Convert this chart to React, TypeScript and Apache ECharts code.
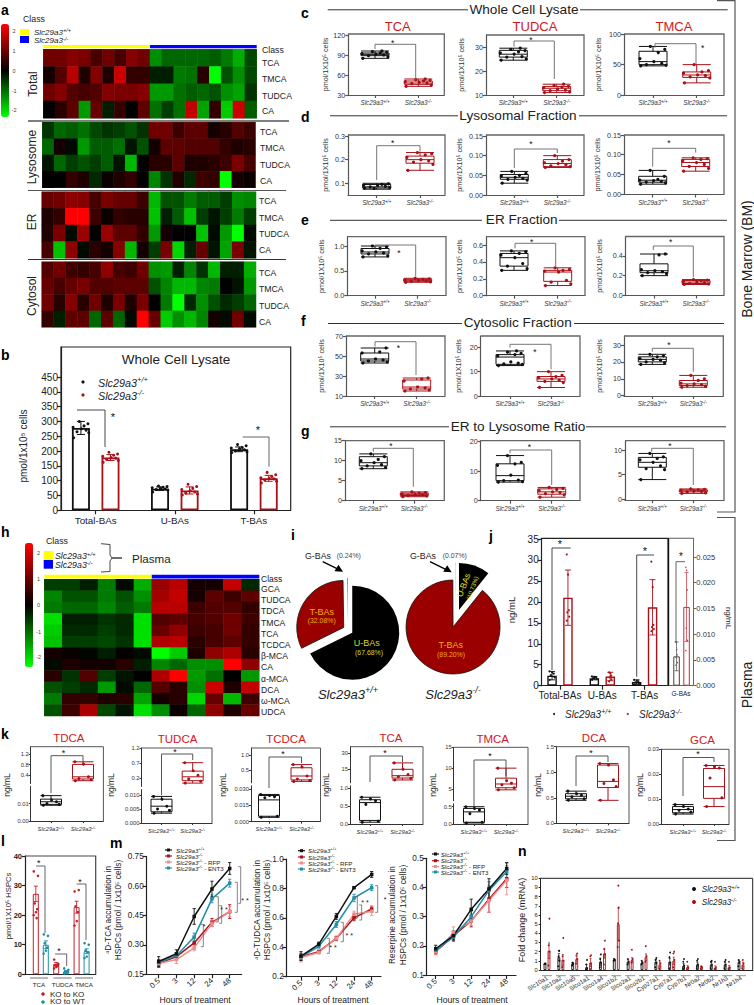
import React, { useEffect, useRef } from "react";
import * as echarts from "echarts";

const F = "Liberation Sans";
const WT = "+/+";
const KO = "-/-";
const BLACK = "#111111";
const RED = "#a91017";
const TEAL = "#1f8fa6";
const PINK = "#f08c8c";

// ---------- heatmap values ----------
const hmTotal = [
  [1.1, 1.1, 1.3, 1.2, 0.7, 1.1, 0.7, 1.3, 1.1, -1.4, -1, -1, -1, -1, -0.9, -1.2, -1.7, -0.7],
  [0.2, 0.8, 1.8, 0.3, 1.3, 0.3, 2.0, 0.5, 0.5, -0.3, -0.3, -1.2, -1.1, 0.4, -2.5, -0.8, -1.4, -0.7],
  [1.1, 1.3, 0.8, 0.7, 0.8, 1.3, 1.2, 1.2, 1.3, -1.5, -1.5, -1.1, -0.9, -1, -0.8, -1.4, -1.6, -0.5],
  [0, 0.4, 0.9, -1.5, 1.0, -0.3, 0.5, 0, 0.9, -1.1, -0.6, -1.1, 1.9, -1.6, 0.5, -2.0, 2.0, -0.9],
];
const hmLysosome = [
  [-0.5, -1, -0.9, -1.1, -0.7, -0.5, -0.6, -0.8, -0.5, 1.1, 1.1, 0.6, 0.9, 0.9, 0.2, 0.4, 0.8, 0.6],
  [-1, 0.2, -0.1, -1.5, -0.9, -0.9, -1.1, -0.2, -0.8, 0.2, 0.9, 0.9, 0.8, 0.8, 0.8, 0.5, 0.3, 0.4],
  [-0.2, -1, -0.6, -0.8, -0.6, -0.9, -0.2, -1.8, 0, 0.4, 0.4, 0.9, 0.3, 0.3, 0.4, 0.6, 1.2, 0.7],
  [0, 0, 0.5, 0.3, -0.4, 0.1, 0.3, 0.5, 0.05, -1.3, -0.5, 0.3, -0.4, 0.6, 0.5, -2.5, 0.2, 0.1],
];
const hmEr = [
  [1, 1.1, 1.4, 1.3, 0.7, 1.2, 1, 1, 0.6, -1.8, -0.8, -0.8, -1.2, -0.9, -0.9, -0.6, -1.4, -1.3],
  [0.3, 0.5, 2.5, 2.5, 0.6, 0.1, 0.5, 0.4, 0.4, -1.9, -0.3, -0.9, -1.9, -0.6, -0.2, -0.6, -1.2, -0.6],
  [0.3, 1.2, -0.1, 1.5, 0, 1.5, 0.9, 0.9, 0.5, -1.5, 0.2, 0, 0, -1.9, -0.1, -1.5, -2.5, -0.1],
  [0.7, -1.9, 1.4, -0.1, 0.4, 0.2, 1.3, -1.8, 0.2, -0.6, 1.2, -2.1, -0.3, 1.0, -0.2, -1.6, 1.2, -0.2],
];
const hmCytosol = [
  [0.8, 1.1, 0.6, 0.5, 0.7, 1.4, 0.7, 0.6, 1.1, -1.4, -1.5, -0.3, -1.3, -0.5, -1.8, -0.3, -0.3, -1.7],
  [1, 0.7, 1, 1.2, 0.8, 0.8, 0.9, 0.9, 0.9, -0.8, -1.3, -1.8, -1.8, -1.3, -1.2, 0, -0.2, -1.5],
  [1.1, 0.4, 1.3, 0.4, 1.1, 0.3, 1.2, 0.3, 1.2, 0, -1.2, -2.5, -0.4, -1.4, -0.8, -0.4, -0.6, -1.0],
  [0.5, -0.3, 0.9, 0.9, -1, 0.9, -1, -0.1, 2.5, 1, -2, -1.4, -1.8, -1.3, 0.2, -0.1, 1.1, -0.1],
];
const hmPlasma = [
  [-0.6, -0.6, -0.3, -1.2, -0.1, -1.7, 1.5, 1.8, 0.2, 0.2, 1.9, -0.4],
  [-1.3, -0.8, -0.8, -1.2, -0.8, -1.4, 1.6, 1.9, 0.2, 0.9, 0.6, 0.9],
  [-1.2, -1, -1, -1.3, -0.9, -1.2, 1.8, 1.8, 0.6, 0.8, 0.8, 0.5],
  [-2.2, -0.3, -0.3, -0.5, -0.4, -2.2, 0.8, 0.9, 0.7, 0.8, 1.1, 0.6],
  [-2.0, -0.4, -0.4, -0.6, -0.4, -2.2, 1, 1.4, 0.6, 0.7, 1.1, 0.5],
  [-1.9, -0.6, -0.6, -0.7, -0.5, -2.2, 1.7, 1.8, 0.4, 0.7, 0.9, 0.5],
  [0.2, 0.1, -0.05, -0.3, 0.05, -0.1, -2.5, -2, 0.3, 1.4, 1.7, 0.4],
  [-0.1, 0.3, 0.2, 0.2, 0.4, -0.3, -1.3, -1, -1.4, -1.4, 2.5, 1.4],
  [0.4, -0.5, 0.8, -0.6, -0.2, 0, 1.7, 2.5, -1.5, -1.1, 0, -1.5],
  [-0.8, -0.6, -0.4, -1.5, -0.1, -1, 0.8, 0.4, -1.4, 2, 0.3, 1.9],
  [-1.2, 0.5, 0.5, 0.3, 0.4, -1.6, 0.2, 0.4, -2.1, 1, -1.8, 0.6],
  [-0.8, 0.6, 1.7, -0.7, -0.2, -2.2, -1.4, 0.1, -1, 1.4, 0.3, 1],
];
const rowsA = ["TCA", "TMCA", "TUDCA", "CA"];
const rowsH = ["GCA", "TUDCA", "TDCA", "TMCA", "TCA", "TCDCA", "β-MCA", "CA", "α-MCA", "DCA", "ω-MCA", "UDCA"];

// ---------- panel b ----------
const bCats = ["Total-BAs", "U-BAs", "T-BAs"];
const bMeanWt = [278, 73, 206];
const bMeanKo = [178, 67, 108];
const bErrWt = [22, 6, 8];
const bErrKo = [10, 12, 10];
const bPtsWt = [
  [245, 262, 265, 270, 275, 280, 285, 292, 300],
  [62, 68, 70, 72, 74, 76, 78, 80, 82],
  [195, 198, 200, 204, 208, 210, 212, 218, 222],
];
const bPtsKo = [
  [162, 168, 172, 176, 178, 182, 186, 190, 196],
  [52, 55, 58, 62, 66, 70, 74, 80, 88],
  [92, 98, 102, 106, 108, 110, 114, 120, 128],
];

// ---------- box panels: [wt box, wt points, ko box, ko points] ----------
const c1 = [[85, 89, 91, 93, 96], [85, 87, 89, 90, 91, 92, 93, 94, 95, 96], [43, 46, 48, 51, 54], [43, 45, 47, 48, 49, 50, 51, 52, 53, 54]];
const c2 = [[24.5, 25.8, 27, 28.6, 29.5], [24.5, 25, 25.8, 26, 27, 27.5, 28, 28.5, 29, 29.5], [11, 11.8, 12.8, 13.5, 14.5], [11, 11.3, 11.8, 12, 12.5, 13, 13.3, 13.6, 14, 14.5]];
const c3 = [[48, 50, 55, 72, 80], [48, 49, 50, 52, 55, 60, 70, 75, 80], [20, 29, 33, 38, 50], [20, 28, 30, 32, 33, 36, 38, 40, 50]];
const d1 = [[0.075, 0.08, 0.085, 0.095, 0.1], [0.08, 0.082, 0.085, 0.087, 0.09, 0.092, 0.095, 0.098, 0.078], [0.155, 0.185, 0.2, 0.215, 0.23], [0.155, 0.18, 0.19, 0.195, 0.2, 0.21, 0.22, 0.225, 0.23]];
const d2 = [[0.03, 0.04, 0.045, 0.052, 0.06], [0.03, 0.038, 0.04, 0.042, 0.045, 0.048, 0.05, 0.055, 0.06], [0.07, 0.072, 0.08, 0.09, 0.1], [0.07, 0.072, 0.074, 0.077, 0.08, 0.082, 0.086, 0.09, 0.1]];
const d3 = [[0.025, 0.03, 0.035, 0.045, 0.06], [0.025, 0.028, 0.03, 0.032, 0.034, 0.035, 0.037, 0.045, 0.06], [0.058, 0.07, 0.08, 0.088, 0.092], [0.058, 0.065, 0.07, 0.075, 0.08, 0.085, 0.088, 0.09, 0.092]];
const e1 = [[0.78, 0.84, 0.88, 0.95, 1.0], [0.78, 0.8, 0.84, 0.86, 0.88, 0.9, 0.95, 0.98, 1], [0.27, 0.29, 0.31, 0.33, 0.35], [0.27, 0.28, 0.29, 0.3, 0.31, 0.32, 0.33, 0.34, 0.35]];
const e2 = [[0.3, 0.35, 0.45, 0.5, 0.53], [0.3, 0.32, 0.35, 0.38, 0.45, 0.48, 0.5, 0.52, 0.53], [0.12, 0.17, 0.28, 0.3, 0.33], [0.12, 0.14, 0.16, 0.18, 0.28, 0.29, 0.3, 0.31, 0.33]];
const e3 = [[0.2, 0.23, 0.25, 0.32, 0.42], [0.2, 0.22, 0.23, 0.24, 0.25, 0.26, 0.41, 0.42], [0.11, 0.12, 0.135, 0.15, 0.16], [0.11, 0.115, 0.12, 0.13, 0.135, 0.14, 0.15, 0.155, 0.16]];
const f1 = [[43, 45, 47, 53, 58], [43, 44, 45, 46, 47, 53, 54, 58], [15, 17, 19, 26, 28], [15, 16, 17, 18, 19, 25, 27, 28]];
const f2 = [[12.5, 13, 16, 17, 18.5], [12.5, 13, 13.2, 13.5, 14, 16.5, 17, 17.5, 18, 18.5], [3.5, 6, 7, 8, 10], [3.5, 5.5, 6, 6.5, 7, 7.5, 8, 8.5, 10]];
const f3 = [[18.5, 20, 21.5, 23, 24.5], [18.5, 19.5, 20, 21, 21.5, 22, 23, 23.5, 24.5], [5, 6, 7, 9, 12], [5, 5.5, 6, 6.5, 7, 7.5, 9, 10, 12]];
const g1 = [[8, 8.7, 9.5, 11, 11.7], [8, 8.3, 8.7, 9, 9.5, 10, 10.3, 11, 11.7], [1, 1.3, 1.6, 1.9, 2.2], [1, 1.2, 1.3, 1.5, 1.6, 1.7, 1.9, 2, 2.2]];
const g2 = [[6.3, 6.8, 8.5, 12.5, 15.3], [6.3, 6.5, 6.8, 7, 8.7, 12, 12.5, 13, 15.3], [1.2, 2.2, 3, 4, 4.5], [1.2, 2, 2.4, 2.8, 3, 3.4, 3.8, 4.2, 4.5]];
const g3 = [[4, 6.5, 7.5, 8.5, 9.3], [4, 6, 6.2, 6.8, 7.5, 8, 8.3, 8.6, 9.3], [1.2, 1.5, 1.7, 1.9, 2.1], [1.2, 1.3, 1.5, 1.6, 1.7, 1.8, 1.9, 2, 2.1]];
const kTdca = [[0.009, 0.0095, 0.011, 0.0125, 0.0145], [0.009, 0.0095, 0.01, 0.011, 0.012, 0.0145], [0.18, 0.245, 0.33, 0.81, 0.91], [0.18, 0.22, 0.26, 0.33, 0.82, 0.91]];
const kTudca = [[0.0035, 0.004, 0.006, 0.0085, 0.0095], [0.0035, 0.0045, 0.005, 0.006, 0.0085, 0.0095], [0.04, 0.12, 0.25, 0.44, 0.72], [0.04, 0.1, 0.18, 0.3, 0.45, 0.72]];
const kTcdca = [[0.004, 0.005, 0.02, 0.024, 0.025], [0.004, 0.005, 0.022, 0.023, 0.024, 0.025], [0.12, 0.17, 0.3, 0.575, 0.68], [0.12, 0.15, 0.2, 0.3, 0.6, 0.68]];
const kTca = [[0.05, 0.1, 0.6, 0.68, 0.75], [0.05, 0.08, 0.55, 0.65, 0.7, 0.75], [5, 6.8, 9, 15, 21], [5, 6.5, 8, 10, 15, 21]];
const kTmca = [[0.03, 0.05, 0.35, 0.45, 0.5], [0.03, 0.05, 0.3, 0.4, 0.45, 0.5], [4.8, 5.3, 6.2, 7.6, 10], [4.8, 5.3, 6, 6.4, 7, 10]];
const kDca = [[0.45, 0.48, 0.53, 0.58, 0.63], [0.45, 0.48, 0.52, 0.55, 0.58, 0.63], [0.45, 0.7, 0.82, 1.14, 1.17], [0.45, 0.72, 0.78, 0.85, 1.14, 1.17]];
const kGca = [[0.004, 0.0045, 0.0058, 0.007, 0.0078], [0.004, 0.0048, 0.0055, 0.006, 0.007, 0.0078], [0.007, 0.0103, 0.015, 0.0223, 0.0235], [0.007, 0.0105, 0.0185, 0.0225, 0.023, 0.0235]];

// ---------- pies ----------
const pieLeft = [67.68, 32.08, 0.24];
const pieRight = [10.73, 89.2, 0.07];

// ---------- panel j ----------
const jMeanWt = [2.4, 1.8, 0.9];
const jMeanKo = [21, 2.2, 18.7];
const jErrWt = [1, 0.4, 0.5];
const jErrKo = [6.6, 1, 6.6];
const jPtsWt = [[1.4, 2, 2.5, 2.9, 3.2, 3.4], [1.4, 1.6, 1.8, 2, 2.1, 2.2], [0.3, 0.5, 0.8, 1, 1.2, 1.4]];
const jPtsKo = [[15.5, 16.5, 17.5, 18, 26.5, 31.3], [1, 1.5, 2, 2.4, 3, 3.2], [13, 13.5, 14, 14.5, 23.5, 29.6]];
const jGMean = [0.0057, 0.0153];
const jGErr = [0.0028, 0.0067];
const jGPtsWt = [0.004, 0.0045, 0.0055, 0.006, 0.007, 0.0085];
const jGPtsKo = [0.0068, 0.0088, 0.0112, 0.0186, 0.0224, 0.023];

// ---------- panel l ----------
const lCats = ["TCA", "TUDCA", "TMCA"];
const lMeanKo = [27.2, 3.5, 22.7];
const lMeanWt = [10, 1, 7.8];
const lErrKo = [2.6, 0.5, 2];
const lErrWt = [1.3, 0.3, 0.8];
const lPtsKo = [[34.8, 33.3, 24, 22, 21, 20, 19], [5, 3.5, 3, 2.8, 2.5, 2], [28, 28.5, 23, 21, 18, 16.5]];
const lPtsWt = [[13.5, 13, 10.5, 9, 8, 7], [2, 1.5, 1, 0.8, 0.5, 0.3], [10.5, 10, 8, 7.5, 6, 5.5]];

// ---------- panel m ----------
const hours = ["0.5", "3", "12", "24", "48"];
const m1Lines = [[0.215, 0.255, 0.445, 0.585, 0.69], [0.205, 0.24, 0.31, 0.415, 0.47], [0.205, 0.225, 0.285, 0.41, 0.47], [0.21, 0.245, 0.34, 0.535, 0.615]];
const m1Errs = [[0.025, 0.02, 0.04, 0.04, 0.03], [0.02, 0.015, 0.03, 0.02, 0.035], [0.015, 0.02, 0.015, 0.015, 0.025], [0.015, 0.015, 0.02, 0.02, 0.02]];
const m2Lines = [[0.34, 0.42, 0.61, 0.805, 0.895], [0.335, 0.37, 0.46, 0.6, 0.66], [0.33, 0.365, 0.46, 0.625, 0.645], [0.335, 0.405, 0.555, 0.735, 0.805]];
const m2Errs = [[0.03, 0.015, 0.02, 0.005, 0.02], [0.02, 0.01, 0.015, 0.02, 0.02], [0.03, 0.01, 0.01, 0.02, 0.03], [0.02, 0.01, 0.02, 0.025, 0.02]];
const m3Lines = [[0.19, 0.235, 0.325, 0.395, 0.465], [0.18, 0.235, 0.285, 0.36, 0.43], [0.18, 0.245, 0.285, 0.355, 0.425], [0.185, 0.23, 0.3, 0.39, 0.455]];
const m3Errs = [[0.012, 0.015, 0.035, 0.035, 0.02], [0.01, 0.015, 0.02, 0.045, 0.03], [0.01, 0.02, 0.015, 0.04, 0.05], [0.01, 0.015, 0.02, 0.03, 0.03]];

// ---------- panel n ----------
const genes = ["Slc10a1", "Slc10a2", "Slc10a5", "Slco1a1", "Slco1a4", "Slco1b2", "Slco2a1", "Slco2b1", "Cyp27a1", "Cyp7a1", "Cyp7b1", "Nr0a2", "Nr0b2", "Nr1h3", "Nr1h4"];
const nMeanWt = [0.7, 1.4, 0.7, 0.3, 0.9, 1.1, 0.9, 0.8, 0.9, 0.9, 0.45, 0.6, 0.6, 0.6, 0.85];
const nMeanKo = [2.1, 1.1, 1.2, 0.8, 1.8, 5, 1.1, 1.4, 0.6, 1, 0.3, 0.3, 0.25, 0.3, 0.6];
const nErrWt = [0.05, 0.4, 0.1, 0.3, 0.4, 0.1, 0.2, 0.1, 0.25, 0.35, 0.25, 0.25, 0.25, 0.25, 0.15];
const nErrKo = [0.85, 0.6, 0.25, 0.45, 0.5, 1.75, 0.25, 0.35, 0.25, 0.4, 0.2, 0.1, 0.2, 0.2, 0.25];
const nPtsWt = [[0.65, 0.7], [0.4, 1, 1.5, 2.1, 2.1], [0.5, 0.7, 0.8], [0, 0.2, 0.6, 1.1], [0.3, 0.8, 1.2, 1.7], [1, 1.1, 1.2], [0.6, 0.9, 1.2], [0.6, 0.8, 1], [0.3, 0.8, 1.1, 1.3], [0.2, 0.8, 1.4, 1.9], [0.1, 0.5, 0.9, 1.2], [0.2, 0.6, 1, 1.2], [0.2, 0.6, 0.9, 1], [0.2, 0.6, 0.9, 1.1], [0.4, 0.9, 1.1]];
const nPtsKo = [[0.5, 2, 2.7, 5.6], [0.3, 1, 1.5, 3.5], [0.7, 1.2, 1.6, 1.8], [0.1, 0.7, 1.5, 1.6], [0.6, 1.7, 2.3, 3.2], [2.5, 3.2, 5.1, 6.8, 9.2], [0.8, 1.2, 2.2], [0.9, 1.5, 2.6], [0.2, 0.7, 1], [0.3, 1.1, 1.8, 2], [0, 0.3, 0.9], [0.1, 0.3, 0.4], [0.1, 0.3, 0.9], [0.1, 0.3, 0.9], [0.2, 0.7, 1.1]];

// x offsets for scattering points over a box (layout only)
const JIT = [-0.28, 0.3, -0.15, 0.2, 0.02, -0.3, 0.12, 0.27, -0.06, 0.16];

const lin = (v0: number, p0: number, v1: number, p1: number, p: number) => v0 + ((p - p0) * (v1 - v0)) / (p1 - p0);

function buildOption() {
  const grid: any[] = [];
  const xAxis: any[] = [];
  const yAxis: any[] = [];
  const series: any[] = [];
  const g: any[] = [];

  const text = (s: string, x: number, y: number, o: any = {}) => {
    g.push({
      type: "text",
      x,
      y,
      rotation: ((o.rot || 0) * Math.PI) / 180,
      silent: true,
      z: 20,
      style: {
        text: s,
        fontFamily: F,
        fontSize: o.fs || 9,
        fontStyle: o.italic ? "italic" : "normal",
        fontWeight: o.bold ? "bold" : "normal",
        fill: o.color || "#222",
        textAlign: o.align || "left",
        textVerticalAlign: "middle",
        ...(o.rich ? { rich: o.rich } : {}),
      },
    });
  };
  const polyline = (pts: number[][], color = "#555", lw = 1, z = 15) =>
    g.push({ type: "polyline", silent: true, z, shape: { points: pts }, style: { stroke: color, lineWidth: lw, fill: "none" } });
  const rect = (x: number, y: number, w: number, h: number, color: string) =>
    g.push({ type: "rect", silent: true, z: 15, shape: { x, y, width: w, height: h }, style: { fill: color } });
  const dot = (x: number, y: number, r: number, color: string) =>
    g.push({ type: "circle", silent: true, z: 15, shape: { cx: x, cy: y, r }, style: { fill: color } });
  const star = (x: number, y: number, fs = 10) => text("*", x, y + 2, { fs, align: "center", color: "#111" });
  const geno = (sup: string, extra = "") => `{a|Slc29a3}{b|${sup}}${extra ? `{c|${extra}}` : ""}`;
  const genoRich = (fs: number, color = "#222") => ({
    a: { fontFamily: F, fontStyle: "italic", fontSize: fs, color, fill: color, lineHeight: fs * 1.25 },
    b: { fontFamily: F, fontStyle: "italic", fontSize: fs * 0.7, color, fill: color, verticalAlign: "top", lineHeight: fs * 1.25 },
    c: { fontFamily: F, fontSize: fs, color, fill: color, lineHeight: fs * 1.25 },
  });

  // cartesian panel whose scales are anchored to the layout
  const cart = (o: any) => {
    const idx = grid.length;
    grid.push({ left: o.x0, top: o.y0, width: o.x1 - o.x0, height: o.y1 - o.y0, containLabel: false });
    const [xv0, xp0, xv1, xp1] = o.xa;
    const [yv0, yp0, yv1, yp1] = o.ya;
    const axisColor = o.axisColor || "#333";
    const axisW = o.axisW || 1;
    const tl = o.tickLen === undefined ? 3 : o.tickLen;
    xAxis.push({
      gridIndex: idx,
      type: "value",
      min: lin(xv0, xp0, xv1, xp1, o.x0),
      max: lin(xv0, xp0, xv1, xp1, o.x1),
      show: o.showX !== false,
      splitLine: { show: false },
      axisLine: { show: true, onZero: false, lineStyle: { color: axisColor, width: axisW } },
      axisTick: { show: true, length: tl, customValues: o.xt || [], lineStyle: { color: axisColor, width: axisW } },
      axisLabel: {
        show: true,
        customValues: o.xt || [],
        formatter: o.xl,
        hideOverlap: false,
        fontFamily: F,
        fontSize: o.xFs || 7,
        color: o.xColor || "#333",
        margin: o.xMargin === undefined ? 3 : o.xMargin,
        rotate: o.xRot || 0,
        ...(o.xRich ? { rich: o.xRich } : {}),
      },
    });
    const yVals = (o.yt || []).map((s: string) => parseFloat(s));
    yAxis.push({
      gridIndex: idx,
      type: "value",
      position: o.yPos || "left",
      min: lin(yv0, yp0, yv1, yp1, o.y1),
      max: lin(yv0, yp0, yv1, yp1, o.y0),
      splitLine: { show: false },
      axisLine: { show: o.yLine !== false, onZero: false, lineStyle: { color: axisColor, width: axisW } },
      axisTick: { show: true, length: tl, customValues: yVals, lineStyle: { color: axisColor, width: axisW } },
      axisLabel: {
        show: true,
        customValues: yVals,
        formatter: (v: number) => (o.yt || []).find((s: string) => parseFloat(s) === v) || "",
        hideOverlap: false,
        fontFamily: F,
        fontSize: o.yFs || 7,
        fontWeight: o.yBold ? "bold" : "normal",
        color: o.yColor || "#333",
        margin: o.yMargin === undefined ? 3 : o.yMargin,
      },
    });
    return idx;
  };

  const errSeries = (idx: number, data: number[][], color: string, cap: number, lw = 1, z = 4) => {
    series.push({
      type: "custom",
      xAxisIndex: idx,
      yAxisIndex: idx,
      silent: true,
      z,
      encode: { x: 0, y: [1, 2] },
      data,
      renderItem: (_: any, api: any) => {
        const lo = api.coord([api.value(0), api.value(1)]);
        const hi = api.coord([api.value(0), api.value(2)]);
        const st = { stroke: color, lineWidth: lw };
        const ln = (x1: number, y1: number, x2: number, y2: number) => ({ type: "line", shape: { x1, y1, x2, y2 }, style: st });
        return {
          type: "group",
          children: [ln(lo[0], lo[1], hi[0], hi[1]), ln(lo[0] - cap, lo[1], lo[0] + cap, lo[1]), ln(hi[0] - cap, hi[1], hi[0] + cap, hi[1])],
        };
      },
    });
  };
  const scatter = (idx: number, data: number[][], color: string, size: number, z = 5) =>
    series.push({ type: "scatter", xAxisIndex: idx, yAxisIndex: idx, silent: true, z, symbolSize: size, itemStyle: { color, opacity: 1 }, data });
  const barSeries = (idx: number, data: number[][], color: string, width: number, lw: number) =>
    series.push({
      type: "bar",
      xAxisIndex: idx,
      yAxisIndex: idx,
      silent: true,
      z: 3,
      barWidth: width,
      barGap: "-100%",
      itemStyle: { color: "#fff", borderColor: color, borderWidth: lw },
      data,
    });
  const boxSeries = (idx: number, items: any[], w: number) =>
    series.push({
      type: "boxplot",
      xAxisIndex: idx,
      yAxisIndex: idx,
      silent: true,
      z: 3,
      boxWidth: [w, w],
      data: items.map((it) => ({
        value: [it.x, ...it.box],
        itemStyle: { color: "rgba(255,255,255,0)", borderColor: it.color, borderWidth: 1 },
      })),
    });
  const pts = (x: number, vals: number[], scale = 1) => vals.map((v, i) => [x + JIT[i % JIT.length] * scale, v]);

  // ---------- heatmaps ----------
  const heat = (rows: number[][], x0: number, x1: number, y0: number, y1: number) => {
    const idx = grid.length;
    grid.push({ left: x0, top: y0, width: x1 - x0, height: y1 - y0 });
    xAxis.push({ gridIndex: idx, type: "category", show: false, data: rows[0].map((_, i) => String(i)) });
    yAxis.push({ gridIndex: idx, type: "category", show: false, inverse: true, data: rows.map((_, i) => String(i)) });
    const data: number[][] = [];
    rows.forEach((r, ri) => r.forEach((v, ci) => data.push([ci, ri, v])));
    series.push({ type: "heatmap", xAxisIndex: idx, yAxisIndex: idx, silent: true, progressive: 0, data, itemStyle: { borderWidth: 0 } });
    return series.length - 1;
  };
  const sA = [
    heat(hmTotal, 43.3, 256.7, 49.3, 118.3),
    heat(hmLysosome, 42.3, 255.5, 122.3, 187.7),
    heat(hmEr, 41.7, 256, 191.7, 258.3),
    heat(hmCytosol, 41.7, 256, 261.7, 327.3),
  ];
  const sH = heat(hmPlasma, 44.3, 259.3, 579.3, 716);
  const visualMap = [
    { type: "continuous", seriesIndex: sA, dimension: 2, min: -2.5, max: 2.5, left: 1, top: 24, itemWidth: 8, itemHeight: 93, padding: 0, calculable: false, hoverLink: false, inRange: { color: ["#00ff00", "#000000", "#ff0000"] } },
    { type: "continuous", seriesIndex: sH, dimension: 2, min: -2.5, max: 2.5, left: 25, top: 543, itemWidth: 8, itemHeight: 124, padding: 0, calculable: false, hoverLink: false, inRange: { color: ["#00ff00", "#000000", "#ff0000"] } },
  ];
  [["2", 31], ["1", 51], ["0", 71], ["-1", 91], ["-2", 110]].forEach(([s, y]: any) => text(s, 14, y, { fs: 5.5, align: "center", color: "#444" }));
  [["2", 553], ["1", 579], ["0", 605], ["-1", 631.7], ["-2", 657]].forEach(([s, y]: any) => text(s, 38.5, y, { fs: 5.5, align: "center", color: "#444" }));

  // panel a decoration
  rect(43.3, 45, 106.7, 3.2, "#ffff00");
  rect(150, 45, 106.7, 3.2, "#0000ff");
  text("Class", 23, 19, { fs: 8.8 });
  rect(20, 29, 9, 6.5, "#ffff00");
  rect(20, 36, 9, 7, "#0000ff");
  text(geno(WT), 34, 32, { rich: genoRich(8) });
  text(geno(KO), 34, 40.5, { rich: genoRich(8) });
  text("Class", 262, 50, { fs: 8.7 });
  [[63, 79, 96, 111, 262], [132, 148, 165, 181, 260], [201, 218, 234, 250, 259], [273, 289, 306, 322, 259]].forEach((r) =>
    rowsA.forEach((s, i) => text(s, r[4], r[i], { fs: 8.7 }))
  );
  text("Total", 33, 84, { fs: 12, rot: 90, align: "center" });
  text("Lysosome", 32, 157, { fs: 12, rot: 90, align: "center" });
  text("ER", 32, 222, { fs: 12, rot: 90, align: "center" });
  text("Cytosol", 32, 296, { fs: 12, rot: 90, align: "center" });
  polyline([[28, 121], [289, 121]], "#555", 1.4);
  polyline([[28, 190.5], [286, 190.5]], "#555", 1.2);
  polyline([[28, 259.5], [286, 259.5]], "#333", 1.2);

  // panel h decoration
  rect(44.3, 574.8, 107.5, 3.6, "#ffff00");
  rect(151.8, 574.8, 107.5, 3.6, "#0000ff");
  text("Class", 46, 540.7, { fs: 8.8 });
  rect(43.7, 551, 9.3, 9, "#ffff00");
  rect(43.7, 560, 9.3, 8.7, "#0000ff");
  text(geno(WT), 55, 555.7, { rich: genoRich(8.8) });
  text(geno(KO), 55, 565, { rich: genoRich(8.8) });
  polyline([[101, 543.7], [110, 544.5], [110, 555], [112, 558], [122, 558], [112, 558], [110, 561], [110, 571.5], [101, 572]], "#333", 0.9);
  text("Plasma", 132, 558, { fs: 11.6 });
  text("Class", 261, 579, { fs: 8.5 });
  rowsH.forEach((s, i) => text(s, 261, 589 + i * 11.2, { fs: 8.6 }));

  // ---------- panel b ----------
  {
    const idx = cart({
      x0: 61, x1: 290.7, y0: 347, y1: 510.3,
      xa: [1, 95.7, 2, 174.8],
      ya: [0, 510.3, 450, 377],
      xt: [1, 2, 3],
      xl: (v: number) => bCats[v - 1],
      xFs: 9.8, xMargin: 5, xColor: "#222",
      yt: ["0", "50", "100", "150", "200", "250", "300", "350", "400", "450"],
      yFs: 10, yColor: "#222",
      axisColor: "#222", axisW: 1.2, tickLen: 4,
    });
    polyline([[61, 510.3], [61, 347], [290.7, 347], [290.7, 510.3]], "#222", 1.2);
    const off = 0.187;
    barSeries(idx, bMeanWt.map((v, i) => [i + 1 - off, v]), BLACK, 18, 1.8);
    barSeries(idx, bMeanKo.map((v, i) => [i + 1 + off, v]), RED, 18, 1.8);
    errSeries(idx, bMeanWt.map((v, i) => [i + 1 - off, v - bErrWt[i], v + bErrWt[i]]), BLACK, 4, 1);
    errSeries(idx, bMeanKo.map((v, i) => [i + 1 + off, v - bErrKo[i], v + bErrKo[i]]), RED, 4, 1);
    bPtsWt.forEach((p, i) => scatter(idx, pts(i + 1 - off, p, 0.33), BLACK, 3));
    bPtsKo.forEach((p, i) => scatter(idx, pts(i + 1 + off, p, 0.33), RED, 3));
    text("Whole Cell Lysate", 176, 359, { fs: 13.5, align: "center" });
    dot(83, 382, 1.6, BLACK);
    dot(83, 395, 1.6, RED);
    text(geno(WT), 98, 382.5, { rich: genoRich(10.8) });
    text(geno(KO), 98, 395.5, { rich: genoRich(10.8) });
    text("pmol/1x10⁵ cells", 23, 446, { fs: 10, rot: 90, align: "center" });
    polyline([[77, 410], [105, 410], [105, 447]], "#333", 0.9);
    star(113, 415, 11);
    polyline([[242.7, 437], [269, 437], [269, 466.7]], "#555", 0.9);
    star(258, 428, 11);
  }

  // ---------- panels c-g ----------
  const genoX = (fs: number) => ({
    xl: (v: number) => (v === 1 ? geno(WT) : geno(KO)),
    xRich: genoRich(fs, "#333"),
  });
  const boxPanel = (d: number[][], fr: number[], tk: number[], ya: number[], yt: string[], yName?: number) => {
    const [x0, x1, y0, y1] = fr;
    const idx = cart({ x0, x1, y0, y1, xa: [1, tk[0], 2, tk[1]], ya, xt: [1, 2], yt, yFs: 7.2, xFs: 6.3, ...genoX(6.3), axisColor: "#555", axisW: 1.2, xMargin: 4 });
    polyline([[x0, y0], [x1, y0], [x1, y1]], "#666", 1.3);
    boxSeries(idx, [{ x: 1, box: d[0], color: BLACK }, { x: 2, box: d[2], color: RED }], 28);
    scatter(idx, pts(1, d[1]), BLACK, 3.2);
    scatter(idx, pts(2, d[3]), RED, 3.2);
    if (yName !== undefined) text("pmol/1X10⁵ cells", yName, (y0 + y1) / 2, { fs: 7.2, rot: 90, align: "center", color: "#333" });
  };
  boxPanel(c1, [348.3, 444.3, 34, 95], [375, 418.3], [30, 95, 120, 35], ["30", "60", "90", "120"], 325);
  boxPanel(c2, [486, 584, 35, 95], [513.3, 556.7], [10, 95, 30, 47], ["10", "20", "30"], 461.7);
  boxPanel(c3, [624, 724, 34, 95], [653, 696.7], [0, 95, 100, 34.3], ["0", "50", "100"], 598);
  boxPanel(d1, [348, 445, 135, 195], [376.7, 420], [0.1, 183.3, 0.3, 136], ["0.1", "0.2", "0.3"], 325);
  boxPanel(d2, [486, 584, 135, 195], [514.3, 557.3], [0, 195, 0.15, 136], ["0.00", "0.05", "0.10", "0.15"], 459);
  boxPanel(d3, [624, 724, 135, 194.5], [652.7, 695.7], [0, 194, 0.15, 135], ["0.00", "0.05", "0.10", "0.15"], 597);
  boxPanel(e1, [347.3, 446, 236.7, 295.7], [375, 417.7], [0, 295.7, 1, 246], ["0.0", "0.5", "1.0"], 321);
  boxPanel(e2, [486, 585, 236.7, 295.7], [514, 557.7], [0, 295.7, 0.6, 245], ["0.0", "0.2", "0.4", "0.6"], 459);
  boxPanel(e3, [625.7, 724, 236.5, 295.5], [654, 696], [0, 295.3, 0.6, 236.3], ["0.0", "0.2", "0.4", "0.6"], 599);
  boxPanel(f1, [346, 445, 336, 396], [374.7, 416.7], [10, 396, 70, 336], ["10", "30", "50", "70"], 321.7);
  boxPanel(f2, [480.7, 580, 336, 396], [510, 551], [0, 396, 20, 347.3], ["0", "10", "20"], 458);
  boxPanel(f3, [624, 723.3, 336, 396], [652.3, 693.3], [0, 395.7, 30, 345], ["0", "10", "20", "30"], 599);
  boxPanel(g1, [345, 444.3, 440.7, 500.7], [373.3, 414.3], [0, 500.7, 15, 440.7], ["0", "5", "10", "15"]);
  boxPanel(g2, [480.7, 580, 440.7, 500.7], [510, 551.7], [0, 500.7, 20, 441.7], ["0", "10", "20"]);
  boxPanel(g3, [625, 724, 440.7, 500.2], [652.3, 693.3], [0, 499.3, 10, 450], ["0", "5", "10"]);

  // brackets: [x1, yStart, yTop, x2, yEnd, starX, starY]
  [
    [375, 49, 44.3, 415.7, 80, 392.7, 40.7], [514, 46.7, 41, 554.3, 79, 531, 38], [655, 47.7, 43.7, 696, 64, 702.7, 46],
    [376.7, 180, 145.7, 420, 151.7, 392.7, 141], [514.3, 168, 149, 557.3, 153, 531, 142], [652.7, 166.7, 148.3, 695.7, 152.7, 669, 141],
    [375, 248.3, 245, 415.7, 276.7, 399, 251], [515, 248.3, 243.3, 555.7, 266.7, 531.7, 240], [653.3, 250, 246, 693.3, 277.3, 670.7, 240],
    [375, 346.7, 341.7, 416, 375, 398.3, 346], [510, 347.7, 344.3, 551, 369.3, 535, 350], [652.3, 351.7, 348.3, 693.3, 371.7, 669, 343],
    [373.3, 451.7, 448.3, 413.3, 486.7, 391, 444], [510, 453.3, 450, 551.7, 485, 529.3, 445], [651.7, 451.7, 448.3, 693.3, 485, 670, 444],
  ].forEach(([a, b, c, d, e, sx, sy]) => {
    polyline([[a, b], [a, c], [d, c], [d, e]], "#666", 0.9);
    star(sx, sy, 8.5);
  });

  // section titles
  const section = (s: string, cx: number, y: number, xs: number[], fs = 13.6) => {
    text(s, cx, y, { fs, align: "center" });
    polyline([[xs[0], y + 0.8], [xs[1], y + 0.8]], "#333", 1);
    polyline([[xs[2], y + 0.8], [xs[3], y + 0.8]], "#333", 1);
  };
  section("Whole Cell Lysate", 524, 9, [327.7, 468, 580, 727.7]);
  section("Lysosomal Fraction", 518, 115, [330, 458, 579, 727]);
  section("ER Fraction", 521.7, 219.5, [330, 482, 559, 727]);
  section("Cytosolic Fraction", 517.7, 322.7, [328, 462, 574, 724]);
  section("ER to Lysosome Ratio", 518, 426, [330, 449, 586, 726]);
  text("TCA", 397.7, 26.7, { fs: 13, align: "center", color: "#d0181d" });
  text("TUDCA", 535, 26.7, { fs: 13, align: "center", color: "#d0181d" });
  text("TMCA", 674, 26.7, { fs: 13, align: "center", color: "#d0181d" });

  // right-side brackets
  polyline([[717, 0.7], [735, 0.7], [735, 512], [717, 512]], "#555", 1.2);
  polyline([[717, 517.5], [735, 517.5], [735, 840.5], [717, 840.5]], "#555", 1.2);
  text("Bone Marrow (BM)", 746.5, 259, { fs: 14, rot: 90, align: "center" });
  text("Plasma", 746.5, 685, { fs: 14, rot: 90, align: "center" });

  // panel letters
  [["a", 1, 10], ["b", 1, 355], ["c", 301, 13], ["d", 301, 117], ["e", 301, 220], ["f", 301, 321], ["g", 301, 431], ["h", 1, 532], ["i", 291, 535], ["j", 489, 536], ["k", 1, 734], ["l", 1, 841], ["m", 110, 843], ["n", 518, 851]].forEach(
    ([s, x, y]: any) => text(s, x, y, { fs: 14, bold: true, color: "#000" })
  );

  // ---------- pies ----------
  const pie = (vals: number[], cx: number, cy: number, off: number) => {
    series.push({
      type: "pie",
      center: [cx, cy],
      radius: 47,
      startAngle: 90,
      selectedMode: "multiple",
      selectedOffset: off,
      silent: true,
      animation: false,
      label: { show: false },
      labelLine: { show: false },
      data: [
        { name: "U-BAs", value: vals[0], selected: true, itemStyle: { color: "#000000" } },
        { name: "T-BAs", value: vals[1], selected: true, itemStyle: { color: "#9b0000", borderColor: "#111", borderWidth: 0.8 } },
        { name: "G-BAs", value: vals[2], selected: true, itemStyle: { color: "#1c8f1c" } },
      ],
    });
  };
  pie(pieLeft, 348, 630, 5);
  pie(pieRight, 456, 618.5, 9);
  text("T-BAs", 321.7, 611.7, { fs: 9, align: "center", color: "#f0b000" });
  text("(32.08%)", 321.7, 620.5, { fs: 6.9, align: "center", color: "#f0b000" });
  text("U-BAs", 366.7, 643, { fs: 9, align: "center", color: "#d8d820" });
  text("(67.68%)", 369, 652, { fs: 6.9, align: "center", color: "#d8d820" });
  text("T-BAs", 450.7, 645, { fs: 9, align: "center", color: "#f0b000" });
  text("(89.20%)", 451, 654, { fs: 6.9, align: "center", color: "#f0b000" });
  text("U-BAs", 463.5, 585, { fs: 8.5, align: "center", color: "#e8e020", rot: 70 });
  text("(10.73%)", 472.5, 588, { fs: 6, align: "center", color: "#e8e020", rot: 70 });
  text("G-BAs", 305, 555.7, { fs: 8.8 });
  text("(0.24%)", 336.7, 555.7, { fs: 6.9, color: "#444" });
  text("G-BAs", 410, 555.7, { fs: 8.8 });
  text("(0.07%)", 442.7, 555.7, { fs: 6.9, color: "#444" });
  const arrow = (x1: number, y1: number, x2: number, y2: number) => {
    polyline([[x1, y1], [x2 - 4, y2 - 2]], "#000", 1.3);
    g.push({ type: "polygon", silent: true, z: 16, shape: { points: [[x2, y2], [x2 - 8.5, y2 - 0.5], [x2 - 4.5, y2 - 7]] }, style: { fill: "#000" } });
  };
  arrow(322.7, 561.7, 343, 571.7);
  arrow(430, 561.7, 451.7, 572.3);
  text(geno(WT), 348, 694, { align: "center", rich: genoRich(13) });
  text(geno(KO), 453, 694, { align: "center", rich: genoRich(13) });

  // ---------- panel j ----------
  {
    const top = 538.3;
    const bottom = 685.7;
    const idx = cart({
      x0: 541.7, x1: 668.3, y0: top, y1: bottom,
      xa: [1, 560, 2, 602.3],
      ya: [0, bottom, 35, 539],
      xt: [1, 2, 3],
      xl: (v: number) => bCats[v - 1],
      xFs: 10, xColor: "#222", xMargin: 5,
      yt: ["0", "5", "10", "15", "20", "25", "30", "35"], yFs: 10, yColor: "#222",
      axisColor: "#222", axisW: 1.2, tickLen: 4,
    });
    const o = 0.188;
    barSeries(idx, jMeanWt.map((v, i) => [i + 1 - o, v]), BLACK, 9.5, 1.4);
    barSeries(idx, jMeanKo.map((v, i) => [i + 1 + o, v]), RED, 9.5, 1.4);
    errSeries(idx, jMeanWt.map((v, i) => [i + 1 - o, v - jErrWt[i], v + jErrWt[i]]), BLACK, 3, 0.9);
    errSeries(idx, jMeanKo.map((v, i) => [i + 1 + o, v - jErrKo[i], v + jErrKo[i]]), RED, 3, 0.9);
    jPtsWt.forEach((p, i) => scatter(idx, pts(i + 1 - o, p, 0.2), BLACK, 2));
    jPtsKo.forEach((p, i) => scatter(idx, pts(i + 1 + o, p, 0.1), RED, 2));

    const idr = cart({
      x0: 668.3, x1: 693.3, y0: top, y1: bottom,
      xa: [0, 668.3, 1, 693.3],
      ya: [0, bottom, 0.025, 557],
      xt: [],
      xl: () => "",
      yPos: "right",
      yt: ["0.000", "0.005", "0.010", "0.015", "0.020", "0.025"], yFs: 7.6, yColor: "#333",
      axisColor: "#666", tickLen: 3,
    });
    barSeries(idr, [[0.33, jGMean[0]]], "#444", 6.5, 1);
    barSeries(idr, [[0.73, jGMean[1]]], "#b93038", 6.5, 1);
    errSeries(idr, [[0.33, jGMean[0] - jGErr[0], jGMean[0] + jGErr[0]]], "#555", 2, 0.8);
    errSeries(idr, [[0.73, jGMean[1] - jGErr[1], jGMean[1] + jGErr[1]]], "#c04048", 2, 0.8);
    scatter(idr, pts(0.33, jGPtsWt, 0.1), "#666", 1.5);
    scatter(idr, pts(0.73, jGPtsKo, 0.1), "#c04048", 1.5);
    polyline([[541.7, top], [668.3, top]], "#222", 1.2);
    polyline([[668.3, top], [693.3, top]], "#777", 1.2);
    polyline([[668.3, top], [668.3, bottom]], "#111", 1.8);
    text("G-BAs", 681, 693, { fs: 6.5, align: "center" });
    text("ng/mL", 511, 610, { fs: 9.5, rot: 90, align: "center" });
    text("ng/mL", 728, 618, { fs: 8, rot: -90, align: "center" });
    dot(554, 714, 1, BLACK);
    dot(627.7, 714, 1, RED);
    text(geno(WT), 565, 714, { rich: genoRich(10) });
    text(geno(KO), 639, 714, { rich: genoRich(10) });
    polyline([[552, 670], [552, 548], [570.7, 548]], "#333", 0.9);
    star(560, 542, 11);
    polyline([[636.7, 676.7], [636.7, 555], [654, 555]], "#333", 0.9);
    star(645, 549, 11);
    polyline([[676, 643], [676, 561.7], [685, 561.7]], "#555", 0.9);
    star(681, 554, 10);
  }

  // ---------- panel k ----------
  const kFrame = (x0: number, x1: number, y0: number, y1: number) => polyline([[x0, y0], [x1, y0], [x1, y1]], "#555", 1);
  const kBroken = (d: number[][], x0: number, x1: number, top: number, bottom: number, brk: number, tk: number[], lowerYa: number[], lowerT: string[], upperYa: number[], upperT: string[]) => {
    const lo = cart({ x0, x1, y0: brk + 1.5, y1: bottom, xa: [1, tk[0], 2, tk[1]], ya: lowerYa, xt: [1, 2], yt: lowerT, yFs: 5.8, ...genoX(5.8), axisColor: "#333", tickLen: 2, yMargin: 2, xMargin: 4 });
    const hi = cart({ x0, x1, y0: top, y1: brk - 1.5, xa: [1, tk[0], 2, tk[1]], ya: upperYa, xt: [], xl: () => "", showX: false, yt: upperT, yFs: 5.8, axisColor: "#333", tickLen: 2, yMargin: 2 });
    boxSeries(lo, [{ x: 1, box: d[0], color: BLACK }], 21);
    boxSeries(hi, [{ x: 2, box: d[2], color: RED }], 21);
    scatter(lo, pts(1, d[1], 0.85), BLACK, 3);
    scatter(hi, pts(2, d[3], 0.85), RED, 3);
    kFrame(x0, x1, top, bottom);
  };
  const kPlain = (d: number[][], x0: number, x1: number, top: number, bottom: number, tk: number[], ya: number[], yt: string[]) => {
    const i = cart({ x0, x1, y0: top, y1: bottom, xa: [1, tk[0], 2, tk[1]], ya, xt: [1, 2], yt, yFs: 5.8, ...genoX(5.8), axisColor: "#333", tickLen: 2, yMargin: 2, xMargin: 4 });
    boxSeries(i, [{ x: 1, box: d[0], color: BLACK }, { x: 2, box: d[2], color: RED }], 21);
    scatter(i, pts(1, d[1], 0.85), BLACK, 3);
    scatter(i, pts(2, d[3], 0.85), RED, 3);
    kFrame(x0, x1, top, bottom);
  };
  kBroken(kTdca, 30.7, 103.4, 746.7, 821, 785, [51, 83], [0, 821, 0.02, 786], ["0.00", "0.01", "0.02"], [0.4, 775, 1.2, 754.3], ["0.4", "0.8", "1.2"]);
  kBroken(kTudca, 141.5, 212, 748, 823, 788, [161.5, 192.7], [0, 823, 0.01, 795], ["0.000", "0.005", "0.010"], [0.2, 778.3, 1.2, 748.3], ["0.2", "0.7", "1.2"]);
  kBroken(kTcdca, 251, 320.5, 748, 821.7, 784.3, [269, 301.5], [0, 821.7, 0.03, 789], ["0.000", "0.015", "0.030"], [0.5, 770, 1, 755], ["0.5", "1.0"]);
  kBroken(kTca, 350, 423, 746.7, 824, 784.3, [370, 402.5], [0, 824, 1, 788.3], ["0.0", "0.5", "1.0"], [15, 769.3, 30, 753.3], ["15", "30"]);
  kBroken(kTmca, 453.7, 528, 747.3, 824, 802.3, [474, 506], [0, 824, 0.5, 806.7], ["0.0", "0.5"], [5, 789, 15, 747.3], ["5", "10", "15"]);
  kPlain(kDca, 556, 629, 746.7, 823.3, [576, 608], [0, 823.3, 1.5, 746.7], ["0.0", "0.5", "1.0", "1.5"]);
  kPlain(kGca, 661, 729, 749.3, 824, [683, 714], [0, 824, 0.03, 749.3], ["0.00", "0.01", "0.02", "0.03"]);
  [["TDCA", 68.8, 738], ["TUDCA", 177.6, 739], ["TCDCA", 286, 739], ["TCA", 391, 738], ["TMCA", 492.7, 739], ["DCA", 594, 738], ["GCA", 702.4, 740]].forEach(([s, x, y]: any) =>
    text(s, x, y, { fs: 11.5, align: "center", color: "#d0181d" })
  );
  [[7, 785], [111, 785], [223, 785], [326, 785], [432.7, 785], [537.6, 785], [640, 785]].forEach(([x, y]) => text("ng/mL", x, y, { fs: 8.5, rot: 90, align: "center" }));
  // [x1, yStart, yTop, x2, yEnd, starX, starY]
  [
    [51, 793, 755.7, 83, 761.7, 63.4, 751], [161.5, 795, 754, 192.7, 760, 175, 750], [269, 788, 757, 301.5, 763, 283, 752],
    [370, 782, 756, 402.5, 762, 385, 751], [474, 806, 760, 506, 776, 490, 754], [576, 786, 756, 608, 762, 591, 751], [683, 796, 757.5, 714, 762, 698, 752],
  ].forEach(([a, b, c, d, e, sx, sy]) => {
    polyline([[a, b], [a, c], [d, c], [d, e]], "#444", 0.9);
    star(sx, sy, 9);
  });

  // ---------- panel l ----------
  {
    const idx = cart({
      x0: 25, x1: 95.7, y0: 856, y1: 974.3,
      xa: [1, 40.8, 2, 61.2],
      ya: [0, 974.3, 40, 856],
      xt: [],
      xl: () => "",
      yt: ["0", "10", "20", "30", "40"], yFs: 7.5, yBold: true, yColor: "#222",
      axisColor: "#222", axisW: 1.2, tickLen: 3,
    });
    polyline([[25, 856], [95.7, 856], [95.7, 974.3]], "#444", 1.2);
    const o = 0.245;
    barSeries(idx, lMeanKo.map((v, i) => [i + 1 - o, v]), "#c8202a", 6, 1);
    barSeries(idx, lMeanWt.map((v, i) => [i + 1 + o, v]), TEAL, 6, 1);
    errSeries(idx, lMeanKo.map((v, i) => [i + 1 - o, v - lErrKo[i], v + lErrKo[i]]), "#c8202a", 2, 0.9);
    errSeries(idx, lMeanWt.map((v, i) => [i + 1 + o, v - lErrWt[i], v + lErrWt[i]]), TEAL, 2, 0.9);
    lPtsKo.forEach((p, i) => scatter(idx, pts(i + 1 - o, p, 0.35), "#c8202a", 2.6));
    lPtsWt.forEach((p, i) => scatter(idx, pts(i + 1 + o, p, 0.35), TEAL, 2.6));
    lCats.forEach((s, i) => {
      const cx = [39, 62.5, 84][i];
      text(s, cx, 984, { fs: 6.2, align: "center" });
      polyline([[cx - 9, 978], [cx + 9, 978]], "#777", 1);
    });
    dot(43, 994, 1.8, "#c8202a");
    dot(43, 1002, 1.8, TEAL);
    text("KO to KO", 50, 994, { fs: 8 });
    text("KO to WT", 50, 1001.5, { fs: 8 });
    text("pmol/1X10⁵ HSPCs", 8, 906, { fs: 7.6, rot: 90, align: "center" });
    polyline([[36, 866], [45, 866], [45, 933]], "#555", 0.9);
    star(38.7, 861, 9);
    polyline([[55, 954], [66.7, 954], [66.7, 966]], "#555", 0.9);
    star(59, 949, 9);
    polyline([[76.7, 884], [86, 884], [86, 940]], "#555", 0.9);
    star(80, 880, 9);
  }

  // ---------- panel m ----------
  const mColors = [BLACK, RED, PINK, TEAL];
  const mPanel = (lines: number[][], errs: number[][], o: any) => {
    const idx = cart({
      x0: o.x0, x1: o.x1, y0: o.y0, y1: o.y1,
      xa: [0, o.px[0], 4, o.px[1]],
      ya: o.ya,
      xt: [0, 1, 2, 3, 4],
      xl: (v: number) => hours[v],
      xFs: 7.8, xRot: 45, xColor: "#222", xMargin: 5,
      yt: o.yt, yFs: 8.2, yColor: "#222",
      axisColor: "#222", axisW: 1.2, tickLen: 4,
    });
    [1, 2, 3, 0].forEach((k) => {
      errSeries(idx, lines[k].map((v, i) => [i, v - errs[k][i], v + errs[k][i]]), mColors[k], 1.6, 0.9, 6);
      series.push({
        type: "line",
        xAxisIndex: idx,
        yAxisIndex: idx,
        silent: true,
        z: 7,
        symbol: "rect",
        symbolSize: 3.5,
        lineStyle: { color: mColors[k], width: 1.5 },
        itemStyle: { color: mColors[k] },
        data: lines[k].map((v, i) => [i, v]),
      });
    });
    text("Hours of treatment", o.labelX, 1000, { fs: 8.6, align: "center" });
    o.name.forEach((s: string, i: number) => text(s, o.nameX[i], o.nameY, { fs: 8.3, rot: 90, align: "center" }));
    const legendText = [geno(WT), geno(KO), geno(KO, " - RFP"), geno(KO, " - ENT3")];
    o.legY.forEach((y: number, i: number) => {
      polyline([[o.legX, y], [o.legX + 7, y]], mColors[i], 1.2);
      rect(o.legX + 2, y - 1.5, 3, 3, mColors[i]);
      text(legendText[i], o.legT, y, { rich: genoRich(6.2) });
    });
    o.sig.forEach((p: number[]) => polyline([[p[0] - 2.5, p[1]], [p[0], p[1]], [p[0], p[2]], [p[0] - 2.5, p[2]]], "#666", 0.8));
    o.stars.forEach((p: any[]) => text(p[2], p[0], p[1] + 1.5, { fs: 7, align: "center" }));
  };
  mPanel(m1Lines, m1Errs, {
    x0: 146.7, x1: 241.7, y0: 856.7, y1: 974.3, px: [158.7, 229.7], ya: [0.15, 974.3, 0.75, 856.7], yt: ["0.15", "0.30", "0.45", "0.60", "0.75"],
    labelX: 195, name: ["⁴D-TCA accumulation in", "HSPCs (pmol / 1x10⁵ cells)"], nameX: [108, 118.3], nameY: 910,
    legX: 165, legT: 176, legY: [850, 856, 862, 868],
    sig: [[240.7, 866.7, 903.3], [237.3, 882.3, 912.3], [221.7, 905.7, 923.3], [218.3, 896.7, 922], [203.3, 924.3, 946.7]],
    stars: [[245, 899, "* *"], [224, 908, "* *"], [204, 925, "*"]],
  });
  mPanel(m2Lines, m2Errs, {
    x0: 286.7, x1: 381, y0: 859, y1: 976.7, px: [301, 371.7], ya: [0.2, 976.7, 1.0, 859], yt: ["0.2", "0.4", "0.6", "0.8", "1.0"],
    labelX: 333, name: ["⁴D-TUDCA accumulation in", "HSPCs (pmol / 1x10⁵ cells)"], nameX: [256.7, 266.7], nameY: 910,
    legX: 298, legT: 308, legY: [850.7, 857, 863, 869],
    sig: [[377.7, 885.7, 912.3], [361.7, 905, 920], [357.3, 896.7, 918.3], [343.3, 922.3, 941.7], [329.3, 938.3, 953.3]],
    stars: [[385, 898, "*"], [365, 900.7, "* *"], [349.3, 934, "* *"], [333, 946, "* *"]],
  });
  mPanel(m3Lines, m3Errs, {
    x0: 426.7, x1: 516, y0: 858.3, y1: 975, px: [435.7, 506.7], ya: [0.1, 975, 0.5, 858.3], yt: ["0.1", "0.2", "0.3", "0.4", "0.5"],
    labelX: 472, name: ["Reserpine accumulation in", "HSPCs (pmol / 1x10⁵ cells)"], nameX: [391.7, 402.7], nameY: 915,
    legX: 432, legT: 440.7, legY: [854, 860.7, 866.5, 872],
    sig: [],
    stars: [],
  });

  // ---------- panel n ----------
  {
    const idx = cart({
      x0: 540.7, x1: 752.7, y0: 878.3, y1: 970,
      xa: [0, 547, 14, 741],
      ya: [0, 970, 10, 878.3],
      xt: genes.map((_, i) => i),
      xl: (v: number) => genes[v],
      xFs: 6.2, xRot: 32, xColor: "#222", xMargin: 7,
      yt: ["0", "1", "2", "3", "4", "5", "6", "7", "8", "9", "10"], yFs: 5.8, yColor: "#222",
      axisColor: "#222", axisW: 1, tickLen: 2,
    });
    xAxis[idx].axisTick.show = false;
    polyline([[540.7, 878.3], [752.7, 878.3], [752.7, 970]], "#222", 1);
    const o = 0.145;
    barSeries(idx, nMeanWt.map((v, i) => [i - o, v]), BLACK, 2.8, 0.9);
    barSeries(idx, nMeanKo.map((v, i) => [i + o, v]), RED, 2.8, 0.9);
    errSeries(idx, nMeanWt.map((v, i) => [i - o, Math.max(0, v - nErrWt[i]), v + nErrWt[i]]), BLACK, 1, 0.7);
    errSeries(idx, nMeanKo.map((v, i) => [i + o, Math.max(0, v - nErrKo[i]), v + nErrKo[i]]), RED, 1, 0.7);
    nPtsWt.forEach((p, i) => scatter(idx, pts(i - o, p, 0.15), BLACK, 1.8));
    nPtsKo.forEach((p, i) => scatter(idx, pts(i + o, p, 0.15), RED, 1.8));
    genes.forEach((_, i) => polyline([[547 + i * 13.86 - 5, 975.7], [547 + i * 13.86 + 5, 975.7]], "#888", 0.9));
    text("Fold change (mRNA)", 522, 920, { fs: 9, rot: 90, align: "center" });
    dot(694, 889, 2, BLACK);
    dot(694, 902, 2, RED);
    text(geno(WT), 701.7, 889, { rich: genoRich(8.2) });
    text(geno(KO), 701.7, 902, { rich: genoRich(8.2) });
  }

  return {
    animation: false,
    backgroundColor: "#ffffff",
    textStyle: { fontFamily: F },
    grid,
    xAxis,
    yAxis,
    visualMap,
    series,
    graphic: { elements: g },
  };
}

export default function App() {
  const ref = useRef<HTMLDivElement>(null);
  useEffect(() => {
    const chart = echarts.init(ref.current as HTMLDivElement, null, { renderer: "svg", width: 754, height: 1005 });
    chart.setOption(buildOption() as any);
    return () => chart.dispose();
  }, []);
  return <div ref={ref} style={{ position: "absolute", left: 0, top: 0, width: 754, height: 1005 }} />;
}
